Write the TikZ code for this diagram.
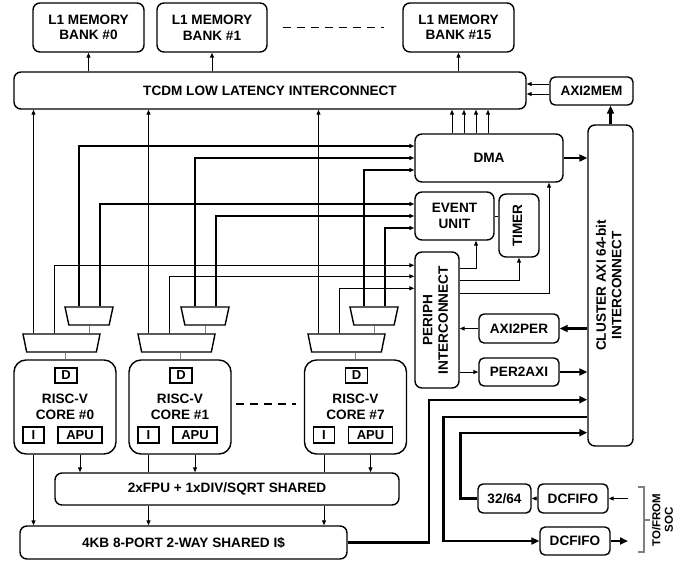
\documentclass[tikz,border=0pt]{standalone}
\usepackage{graphicx}
\usepackage{fontspec}
\setmainfont{Liberation Sans}
\usetikzlibrary{positioning,arrows.meta,shapes.geometric}

\newcommand{\uptext}[1]{\rotatebox{90}{\begin{tabular}{@{}c@{}}#1\end{tabular}}}

\begin{document}
\begin{tikzpicture}[
    x=1pt, y=-1pt,
    >={Triangle[length=5pt,width=4pt]},
    blk/.style={draw, line width=1.4pt, rounded corners=7pt, fill=white, align=center,
                inner sep=0pt, font=\fontsize{13.6}{15.5}\selectfont\bfseries},
    sblk/.style={blk, rounded corners=5pt},
    reg/.style={draw, line width=1.4pt, inner sep=0pt, minimum height=16pt,
                font=\fontsize{13}{14}\selectfont\bfseries},
    mux/.style={draw, line width=1.4pt, trapezium, trapezium angle=87, trapezium stretches=true,
                shape border rotate=180, minimum height=18pt, inner sep=1pt},
    wire/.style={line width=1pt},
    wireb/.style={line width=1.5pt},
    bus/.style={line width=2.4pt, -{Triangle[length=8pt,width=7pt]}},
    link/.style={line width=1pt, gray},
    brk/.style={line width=1.2pt, gray},
  ]
  \useasboundingbox (0,0) rectangle (699,563);

  % --- L1 banks and TCDM ---
  \node[blk, minimum width=111pt, minimum height=49pt] (bank0)  at (88.5,27.5)  {L1 MEMORY\\BANK \#0};
  \node[blk, minimum width=110pt, minimum height=49pt] (bank1)  at (212,27.5)   {L1 MEMORY\\BANK \#1};
  \node[blk, minimum width=111pt, minimum height=49pt] (bank15) at (458.5,27.5) {L1 MEMORY\\BANK \#15};
  \node[blk, minimum width=512pt, minimum height=37pt] (tcdm)   at (270,90.5)   {TCDM LOW LATENCY INTERCONNECT};
  \node[sblk, minimum width=83pt, minimum height=28pt] (axi2mem) at (591.5,91)  {AXI2MEM};

  % --- DMA, event unit, peripherals ---
  \node[blk, minimum width=148pt, minimum height=48pt] (dma)    at (489,158)    {DMA};
  \node[blk, minimum width=79pt,  minimum height=48pt] (evu)    at (454.5,216)  {EVENT\\UNIT};
  \node[blk, minimum width=40pt,  minimum height=63pt] (timer)  at (519,225.5)  {\uptext{TIMER}};
  \node[blk, minimum width=44pt,  minimum height=136pt] (periph) at (437,320)   {\uptext{PERIPH\\INTERCONNECT}};
  \node[sblk, minimum width=80pt, minimum height=29pt] (axi2per) at (519,328.5) {AXI2PER};
  \node[sblk, minimum width=80pt, minimum height=28pt] (per2axi) at (519,372)   {PER2AXI};
  \node[blk, minimum width=45pt,  minimum height=321pt] (axi)   at (610.5,285.5) {\uptext{CLUSTER AXI 64-bit\\INTERCONNECT}};

  % --- cores ---
  \node[blk, rounded corners=12pt, minimum width=102pt, minimum height=94pt] (core0) at (65,407)    {RISC-V\\CORE \#0};
  \node[blk, rounded corners=12pt, minimum width=102pt, minimum height=94pt] (core1) at (180,407)   {RISC-V\\CORE \#1};
  \node[blk, rounded corners=12pt, minimum width=102pt, minimum height=94pt] (core7) at (355.5,407) {RISC-V\\CORE \#7};
  \node[reg, minimum width=22pt, minimum height=15pt] (d0) at (66,375.5)    {D};
  \node[reg, minimum width=22pt, minimum height=15pt] (d1) at (181,375.5)   {D};
  \node[reg, minimum width=22pt, minimum height=15pt] (d7) at (356.5,375.5) {D};
  \node[reg, minimum width=21pt] (i0) at (33.5,435)  {I};
  \node[reg, minimum width=21pt] (i1) at (148.5,435) {I};
  \node[reg, minimum width=21pt] (i7) at (324,435)   {I};
  \node[reg, minimum width=44pt] (apu0) at (80,435)    {APU};
  \node[reg, minimum width=44pt] (apu1) at (195,435)   {APU};
  \node[reg, minimum width=44pt] (apu7) at (370.5,435) {APU};

  % --- muxes above the cores ---
  \node[mux, minimum width=77pt] (mux0)  at (61.5,343)  {};
  \node[mux, minimum width=77pt] (mux1)  at (176.5,343) {};
  \node[mux, minimum width=77pt] (mux7)  at (346.5,343) {};
  \node[mux, trapezium angle=84.5, minimum width=48pt] (smux0) at (89,316)  {};
  \node[mux, trapezium angle=84.5, minimum width=48pt] (smux1) at (205,316) {};
  \node[mux, trapezium angle=84.5, minimum width=48pt] (smux7) at (374,316) {};

  % --- shared units ---
  \node[blk, minimum width=344pt, minimum height=32pt] (fpu)    at (227,489)    {2xFPU + 1xDIV/SQRT SHARED};
  \node[blk, minimum width=327pt, minimum height=33pt] (icache) at (183.5,542.5) {4KB 8-PORT 2-WAY SHARED I\$};

  % --- SoC side ---
  \node[sblk, minimum width=53pt, minimum height=29pt] (conv)    at (504.5,498.5) {32/64};
  \node[sblk, minimum width=70pt, minimum height=29pt] (fifoin)  at (573,498.5)   {DCFIFO};
  \node[sblk, minimum width=70pt, minimum height=28pt] (fifoout) at (575,541)     {DCFIFO};
  \node[font=\fontsize{11.5}{12.5}\selectfont\bfseries] (soc) at (664,520) {\uptext{TO/FROM\\SOC}};
  \coordinate (socin)  at (628,498.5);
  \coordinate (socout) at (628,541);
  \draw[brk] (638,487) -| (644,552) -- (638,552);
  \draw[brk] (644,520) -- (650,520);

  % --- TCDM to banks ---
  \draw[wire,->] (bank0.south |- tcdm.north) -- (bank0.south);
  \draw[wire,->] (bank1.south |- tcdm.north) -- (bank1.south);
  \draw[wire,->] (bank15.south |- tcdm.north) -- (bank15.south);
  \draw[line width=1.4pt, dash pattern=on 8pt off 6pt] ([xshift=15pt]bank1.east) -- ([xshift=-18pt]bank15.west);
  \draw[line width=1.4pt, dash pattern=on 8pt off 6pt] ([xshift=4pt,yshift=3pt]core1.east) -- ([xshift=-8pt,yshift=3pt]core7.west);

  % --- AXI2MEM, DMA ---
  \draw[wire,->] ([yshift=7pt]axi2mem.west) -- ([yshift=7pt]axi2mem.west -| tcdm.east);
  \draw[wire,->] ([yshift=-3pt]axi2mem.west) -- ([yshift=-3pt]axi2mem.west -| tcdm.east);
  \draw[bus] (axi.north) -- (axi.north |- axi2mem.south);
  \draw[wire,->] ([xshift=-37pt]dma.north) -- ([xshift=-37pt]dma.north |- tcdm.south);
  \draw[wire,->] ([xshift=-25pt]dma.north) -- ([xshift=-25pt]dma.north |- tcdm.south);
  \draw[wire,->] ([xshift=-13pt]dma.north) -- ([xshift=-13pt]dma.north |- tcdm.south);
  \draw[wire,->] ([xshift=-1pt]dma.north) -- ([xshift=-1pt]dma.north |- tcdm.south);
  \draw[bus] (dma.east) -- (dma.east -| axi.west);
  \draw[wire] (evu.east) -- (evu.east -| timer.west);

  % --- peripheral interconnect ---
  \draw[wire,->] ([yshift=-17pt]periph.north east) -| ([xshift=21.5pt]evu.south);
  \draw[wire,->] ([yshift=-29pt]periph.north east) -| (timer.south);
  \draw[wire,->] ([yshift=-42pt]periph.north east) -| ([xshift=60pt]dma.south);
  \draw[bus] (axi2per.east -| axi.west) -- (axi2per.east);
  \draw[wire,->] (axi2per.west) -- (axi2per.west -| periph.east);
  \draw[wire,->] (per2axi.west -| periph.east) -- (per2axi.west);
  \draw[bus] (per2axi.east) -- (per2axi.east -| axi.west);

  % --- cluster bus to I$ and SoC ---
  \draw[bus] (icache.east) -- ++(81,0) |- ([yshift=47pt]axi.south west);
  \draw[bus] ([yshift=30pt]axi.south west) -- ++(-144,0) |- (fifoout.west);
  \draw[bus] (fifoout.east) -- (socout);
  \draw[wire,->] (socin) -- (fifoin.east);
  \draw[wire,->] (fifoin.west) -- (conv.east);
  \draw[bus] (conv.west) -- ++(-17,0) |- ([yshift=14pt]axi.south west);

  % --- core 0 ---
  \draw[wire,->] ([xshift=-28pt]mux0.north) -- ([xshift=-28pt]mux0.north |- tcdm.south);
  \draw[wire,->] ([xshift=-7pt]mux0.north) |- ([yshift=-14pt]periph.north west);
  \draw[wireb,->] ([xshift=-10pt]smux0.north) |- ([yshift=12pt]dma.west);
  \draw[wireb,->] ([xshift=11pt]smux0.north) |- ([yshift=12pt]evu.west);
  \draw[link] (smux0.south) -- (smux0.south |- mux0.north);
  \draw[link] (core0.north |- mux0.south) -- (core0.north);
  \draw[wire,->] (i0.south |- core0.south) -- (i0.south |- icache.north);
  \draw[wire,->] (apu0.south |- core0.south) -- (apu0.south |- fpu.north);

  % --- core 1 ---
  \draw[wire,->] ([xshift=-28pt]mux1.north) -- ([xshift=-28pt]mux1.north |- tcdm.south);
  \draw[wire,->] ([xshift=-7pt]mux1.north) |- ([yshift=-25pt]periph.north west);
  \draw[wireb,->] ([xshift=-10pt]smux1.north) |- (dma.west);
  \draw[wireb,->] ([xshift=11pt]smux1.north) |- (evu.west);
  \draw[link] (smux1.south) -- (smux1.south |- mux1.north);
  \draw[link] (core1.north |- mux1.south) -- (core1.north);
  \draw[wire] (i1.south |- core1.south) -- (i1.south |- fpu.north);
  \draw[wire,->] (i1.south |- fpu.south) -- (i1.south |- icache.north);
  \draw[wire,->] (apu1.south |- core1.south) -- (apu1.south |- fpu.north);

  % --- core 7 ---
  \draw[wire,->] ([xshift=-28pt]mux7.north) -- ([xshift=-28pt]mux7.north |- tcdm.south);
  \draw[wire,->] ([xshift=-7pt]mux7.north) |- ([yshift=-37pt]periph.north west);
  \draw[wireb,->] ([xshift=-10pt]smux7.north) |- ([yshift=-12pt]dma.west);
  \draw[wireb,->] ([xshift=11pt]smux7.north) |- ([yshift=-12pt]evu.west);
  \draw[link] (smux7.south) -- (smux7.south |- mux7.north);
  \draw[link] (core7.north |- mux7.south) -- (core7.north);
  \draw[wire] (i7.south |- core7.south) -- (i7.south |- fpu.north);
  \draw[wire,->] (i7.south |- fpu.south) -- (i7.south |- icache.north);
  \draw[wire,->] (apu7.south |- core7.south) -- (apu7.south |- fpu.north);
\end{tikzpicture}
\end{document}
